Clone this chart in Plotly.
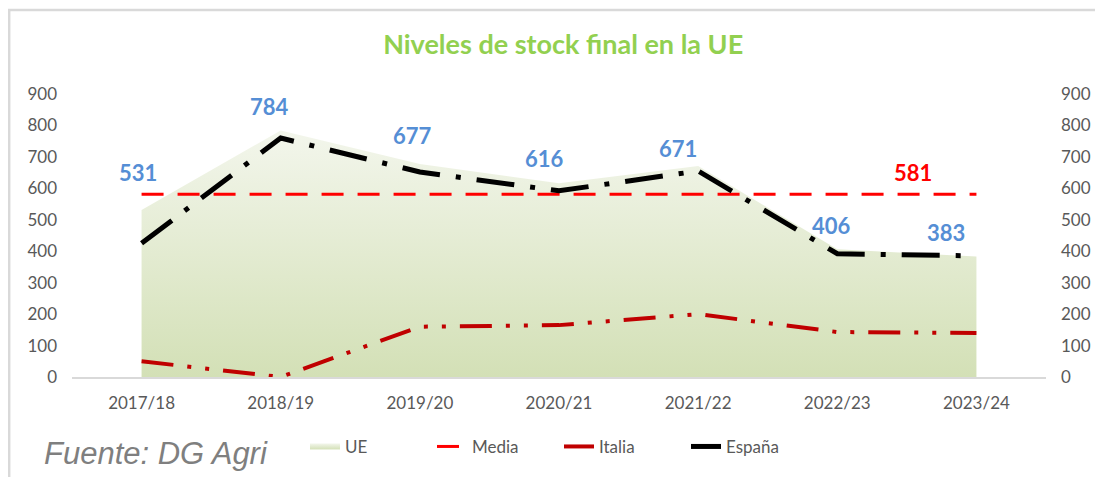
import plotly.graph_objects as go

# campaigns and series (thousand t)
campaigns = ["2017/18", "2018/19", "2019/20", "2020/21", "2021/22", "2022/23", "2023/24"]
ue = [531, 784, 677, 616, 671, 406, 383]
media = [581] * 7
italia = [50, 0, 160, 165, 200, 143, 140]
espana = [425, 760, 652, 592, 655, 392, 385]

# label offsets (px) for the UE data labels
lbl_dx = [-4, -11, -7, -15, -20, -6, -30]
lbl_dy = [38, 24, 29, 25, 18, 24, 24]

tick_font = dict(family="Lato", size=17, color="#595959")

fig = go.Figure()

fig.add_trace(go.Scatter(
    x=campaigns, y=ue, name="UE", mode="none",
    fill="tozeroy",
    fillcolor="#dfe8cc",
    fillgradient=dict(type="vertical",
                      colorscale=[[0, "#d3e0b6"], [1, "#f3f6ec"]]),
    hoverinfo="x+y",
))
fig.add_trace(go.Scatter(
    x=campaigns, y=media, name="Media", mode="lines",
    line=dict(color="#ff0000", width=3, dash="22px,14px"),
))
fig.add_trace(go.Scatter(
    x=campaigns, y=italia, name="Italia", mode="lines",
    line=dict(color="#c00000", width=4, dash="32px,14px,4px,14px,4px,14px"),
))
fig.add_trace(go.Scatter(
    x=campaigns, y=espana, name="España", mode="lines",
    line=dict(color="#000000", width=5, dash="38px,16px,5px,16px"),
))
# dummy trace so the right axis gets drawn
fig.add_trace(go.Scatter(
    x=[campaigns[0]], y=[0], yaxis="y2", mode="markers",
    marker=dict(opacity=0), showlegend=False, hoverinfo="skip",
))

for i, (c, v) in enumerate(zip(campaigns, ue)):
    fig.add_annotation(
        x=c, y=v, text=f"<b>{v}</b>", showarrow=False,
        xshift=lbl_dx[i], yshift=lbl_dy[i],
        font=dict(family="Lato", size=22, color="#558ed5"),
    )

fig.add_annotation(
    x=campaigns[-1], y=media[-1], text=f"<b>{media[-1]}</b>", showarrow=False,
    xshift=-63, yshift=22,
    font=dict(family="Lato", size=22, color="#ff0000"),
)

fig.add_annotation(
    xref="paper", yref="paper", x=-0.031, y=-0.27, xanchor="left", yanchor="middle",
    text="<i>Fuente: DG Agri</i>", showarrow=False,
    font=dict(family="Liberation Sans", size=31, color="#7f7f7f"),
)

# chart frame (left and top edges visible)
fig.add_shape(
    type="rect", xref="paper", yref="paper",
    x0=-0.0645, x1=1.08, y0=-0.6, y1=1.297,
    line=dict(color="#d9d9d9", width=2.5), fillcolor="rgba(0,0,0,0)",
    layer="below",
)

# the page body adds an 8px offset, so the figure is 8px smaller
fig.update_layout(
    width=1095, height=469,
    margin=dict(l=64, r=55, t=86, b=100),
    paper_bgcolor="white", plot_bgcolor="white",
    title=dict(
        text="<b>Niveles de stock final en la UE</b>",
        x=0.507, xanchor="center", y=1 - 37 / 469, yanchor="middle",
        yref="container",
        font=dict(family="Lato", size=27, color="#92d050"),
    ),
    xaxis=dict(
        type="category", range=[-0.5, 6.5],
        showgrid=False, zeroline=False,
        showline=True, linecolor="#d9d9d9", linewidth=2,
        ticks="", tickfont=tick_font, ticklabelstandoff=10,
    ),
    yaxis=dict(
        range=[0, 900], dtick=100, showgrid=False, zeroline=False,
        showline=False, ticks="", tickfont=tick_font, ticklabelstandoff=14,
    ),
    yaxis2=dict(
        range=[0, 900], dtick=100, overlaying="y", side="right",
        showgrid=False, zeroline=False, showline=False, ticks="",
        tickfont=tick_font, ticklabelstandoff=14,
    ),
    legend=dict(
        orientation="h", x=0.5, xanchor="center", y=-0.247, yanchor="middle",
        font=dict(family="Lato", size=17, color="#595959"),
        entrywidth=82, traceorder="normal",
    ),
    showlegend=True,
)

fig.write_html("out.html")
